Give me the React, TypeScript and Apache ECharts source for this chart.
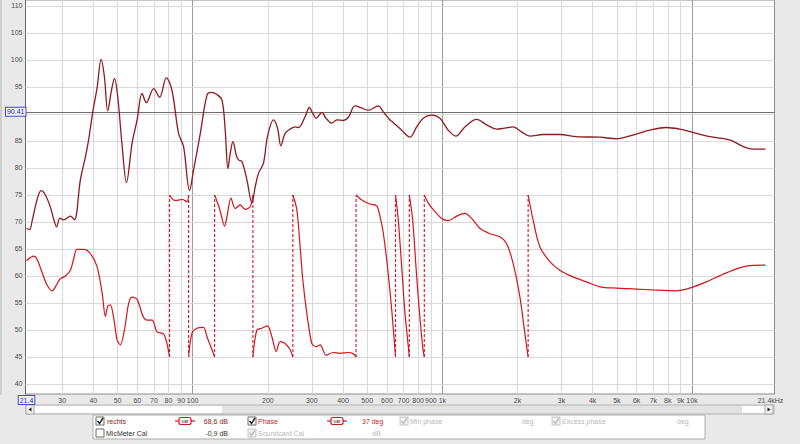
import React, { useEffect, useRef } from 'react';
import * as echarts from 'echarts';

// ---------- data ----------
const splFreq = [21.6, 22.2, 22.8, 23.8, 24.7, 25.7, 26.9, 27.8, 28.5, 29.4,
  30.4, 32.4, 33.6, 35.5, 37.2, 38.3, 39.9, 41.4, 43.0, 44.3,
  45.7, 47.3, 48.6, 50.1, 52.2, 54.3, 57.2, 59.9, 62.7, 65.2,
  69.8, 73.7, 78.4, 82.6, 87.8, 91.9, 97.2, 100.8, 107.3, 114.1,
  118.7, 125.1, 131.0, 135.0, 138.4, 141.4, 145.0, 149.4, 152.6, 157.5,
  164.9, 172.7, 178.0, 183.5, 192.1, 199.3, 210.7, 218.6, 225.6, 234.6,
  245.7, 257.3, 265.2, 282.0, 293.4, 302.8, 312.1, 329.0, 342.3, 360.8,
  377.8, 401.5, 420.4, 447.1, 475.6, 505.3, 554.1, 580.2, 617.2, 636.3,
  687.4, 742.0, 789.3, 838.7, 906.2, 978.1, 1056, 1133, 1231, 1372,
  1504, 1649, 1780, 1921, 2076, 2241, 2533, 2954, 3446, 4271,
  4980, 5801, 6767, 7897, 8921, 10080, 11760, 14140, 15980, 17520,
  19700];
const splDb = [68.8, 68.6, 70.4, 74.1, 75.8, 75.0, 72.8, 70.4, 69.1, 70.7,
  70.4, 71.1, 70.4, 77.8, 82.1, 85.2, 90.7, 94.8, 100.1, 96.9,
  90.6, 94.4, 96.6, 93.2, 84.0, 77.3, 84.6, 88.9, 93.8, 92.1,
  94.7, 93.1, 96.7, 94.4, 86.4, 84.0, 75.8, 79.6, 86.4, 93.5,
  94.0, 93.6, 92.6, 87.0, 79.9, 82.7, 84.9, 82.4, 81.5, 81.2,
  77.8, 73.5, 76.5, 79.0, 80.9, 85.8, 88.9, 87.4, 84.1, 86.4,
  87.2, 87.6, 87.5, 89.5, 91.2, 90.1, 89.2, 90.3, 89.2, 88.3,
  88.9, 88.8, 89.4, 91.5, 91.1, 90.7, 91.5, 90.4, 88.9, 88.4,
  87.0, 85.7, 87.6, 89.2, 89.8, 89.2, 87.0, 85.9, 87.6, 89.0,
  88.0, 87.2, 87.4, 87.6, 86.7, 85.9, 86.2, 86.2, 85.8, 85.7,
  85.4, 86.1, 87.0, 87.5, 87.2, 86.6, 85.8, 85.2, 84.0, 83.5,
  83.5];

// phase, wrapped to ±180 (a wrap is the same frequency listed twice)
const phaseFreq = [
  21.6, 23.1, 23.8, 25.0, 26.1, 27.4, 28.2, 29.4, 30.9, 32.4, 33.4, 34.4, 36.6, 38.9, 41.4, 43.4, 44.7, 45.7, 46.8, 48.3,
  49.8, 51.3, 53.3, 55.4, 57.2, 59.9, 63.3, 65.7, 68.8, 72.0, 76.5, 78.9, 80.8,
  80.8, 83.9, 86.5, 90.9, 94.9, 96.3,
  96.3, 99.4, 104.0, 110.5, 114.1, 119.5, 122.4,
  122.4, 128.1, 134.2, 137.2, 142.3, 148.1, 155.0, 162.3, 170.0, 174.3,
  174.3, 180.8, 189.3, 199.3, 207.6, 216.0, 224.1, 234.6, 245.7, 251.9,
  251.9, 261.4, 269.4, 276.2, 286.6, 300.1, 312.1, 323.9, 342.3, 366.0, 389.3, 420.4, 440.2, 451.3,
  451.3, 475.6, 513.3, 546.0, 562.9, 580.2, 603.1, 627.0, 649.3,
  649.3, 666.3, 687.4, 708.7, 730.6, 737.4,
  737.4, 760.8, 784.3, 808.5, 834.2, 846.6,
  846.6, 878.4, 934.2, 993.6, 1056, 1141, 1231, 1310, 1414, 1550, 1700, 1808, 1921, 2044, 2140, 2206,
  2206, 2310, 2457, 2694, 2954, 3339, 3778, 4271, 4980, 5988, 6976, 8654, 9781, 11410, 13720, 16490, 19700];
const phaseDeg = [
  34, 44, 37, 6, -20, -33, -24, -7, 0, 13, 39, 59, 59, 50, 21, -38, -90, -67, -64, -94,
  -142, -153, -120, -61, -47, -52, -90, -98, -98, -124, -129, -150, -180,
  180, 169, 168, 170, 165, 180,
  -180, -127, -116, -114, -135, -164, -180,
  180, 150, 111, 132, 173, 150, 158, 148, 154, 180,
  -180, -120, -116, -111, -135, -168, -146, -150, -164, -180,
  180, 147, 65, -9, -83, -150, -157, -153, -176, -170, -172, -170, -173, -180,
  180, 169, 160, 156, 132, 95, 20, -75, -180,
  180, 124, 20, -83, -157, -180,
  180, 124, 20, -76, -157, -180,
  180, 162, 143, 128, 123, 133, 139, 128, 106, 94, 87, 72, 28, -46, -127, -180,
  180, 124, 65, 32, 13, -2, -13, -24, -27, -29, -31, -33, -27, -13, 7, 22, 24];

const gridFreqs = [30, 40, 50, 60, 70, 80, 90, 100, 200, 300, 400, 500, 600, 700, 800, 900,
  1000, 2000, 3000, 4000, 5000, 6000, 7000, 8000, 9000, 10000];
const freqLabels = ['30', '40', '50', '60', '70', '80', '90', '100', '200', '300', '400', '500', '600', '700', '800', '900',
  '1k', '2k', '3k', '4k', '5k', '6k', '7k', '8k', '9k', '10k'];
const majorFreqs = [100, 1000, 10000];
const dbTicks = [40, 45, 50, 55, 60, 65, 70, 75, 80, 85, 90, 95, 100, 105, 110];
const degTicks = [-240, -180, -120, -60, 0, 60, 120, 180, 240, 300, 360, 420, 480, 540, 600];
const cursorDb = 90.41;
const cursorDeg = 365;
const startLabel = '21.4';
const endLabel = '21.4kHz';

const X_MIN = 21.4;
const X_MAX = 21400;
const DB_MIN = 38.148;
const DB_MAX = 111.111;
const DEG_MIN = -262.2;
const DEG_MAX = 613.3;

const FONT = 'Liberation Sans';
const SPL_COLOR = '#8e1a1e';
const PHASE_COLOR = '#d3141e';

function checkbox(x: number, y: number, checked: boolean, faded: boolean): any[] {
  const border = faded ? '#c4c4c4' : '#6a6a6a';
  const els: any[] = [{
    type: 'rect', shape: { x, y, width: 8, height: 8 },
    style: { fill: faded ? '#f2f2f2' : '#ffffff', stroke: border, lineWidth: 1 }, silent: true,
  }];
  if (checked) {
    els.push({
      type: 'polyline', shape: { points: [[x + 1.5, y + 4], [x + 3.5, y + 6.5], [x + 7, y + 1]] },
      style: { stroke: faded ? '#bdbdbd' : '#222222', lineWidth: 1.4, fill: 'none' }, silent: true,
    });
  }
  return els;
}

function txt(text: string, x: number, y: number, fill: string, align = 'left'): any {
  return {
    type: 'text', x, y, silent: true,
    style: { text, fill, fontSize: 7, fontFamily: FONT, align, verticalAlign: 'middle' },
  };
}

function varBox(cx: number, y: number): any[] {
  return [
    { type: 'line', shape: { x1: cx - 10, y1: y, x2: cx + 10, y2: y }, style: { stroke: '#c42020', lineWidth: 1.2 }, silent: true },
    { type: 'rect', shape: { x: cx - 6, y: y - 3.5, width: 12, height: 7, r: 2 }, style: { fill: '#ffffff', stroke: '#c42020', lineWidth: 1.2 }, silent: true },
    { type: 'text', x: cx, y, silent: true, style: { text: 'var', fill: '#333', fontSize: 5.5, fontFamily: FONT, align: 'center', verticalAlign: 'middle' } },
  ];
}

export default function App() {
  const ref = useRef<HTMLDivElement>(null);

  useEffect(() => {
    if (!ref.current) return;
    const chart = echarts.init(ref.current, undefined, { renderer: 'svg' });

    const splData = splFreq.map((f, i) => [f, splDb[i]]);
    const phaseSolid: any[] = [];
    const phaseWraps: any[] = [];
    phaseFreq.forEach((f, i) => {
      if (i > 0 && Math.abs(phaseDeg[i] - phaseDeg[i - 1]) > 300) {
        phaseSolid.push([f, '-']);
        phaseWraps.push([phaseFreq[i - 1], phaseDeg[i - 1]], [f, phaseDeg[i]], [f, '-']);
      }
      phaseSolid.push([f, phaseDeg[i]]);
    });

    const yLo = DB_MIN + 0.001;
    const yHi = DB_MAX - 0.001;
    const boxStyle = {
      backgroundColor: '#eef0ff', borderColor: '#4a4ac8', borderWidth: 1,
      padding: [1, 1, 0, 1], color: '#2b2b9c', fontSize: 7, fontFamily: FONT,
    };

    const vLines: any[] = gridFreqs.map((f, i) => [
      {
        coord: [f, yLo],
        lineStyle: { color: majorFreqs.includes(f) ? '#9c9c9c' : '#d9d9d9', width: 1, type: 'solid' },
        label: { formatter: freqLabels[i] },
      },
      { coord: [f, yHi] },
    ]);

    // gridlines hidden by the cursor boxes in the reference carry no label
    const hLinesLeft: any[] = dbTicks.map((v) => ({
      yAxis: v, lineStyle: { color: '#d9d9d9', width: 1, type: 'solid' },
      label: { show: v !== 90, formatter: String(v), position: 'start' },
    }));
    hLinesLeft.push({
      yAxis: cursorDb, lineStyle: { color: '#6e6e6e', width: 1.2, type: 'solid' },
      label: { formatter: String(cursorDb), position: 'start', distance: 0, ...boxStyle },
    });

    const hLinesRight: any[] = degTicks.map((v) => ({
      yAxis: v, lineStyle: { opacity: 0 },
      label: { show: v !== 360, formatter: String(v), position: 'end' },
    }));
    hLinesRight.push({
      yAxis: cursorDeg, lineStyle: { opacity: 0 },
      label: { formatter: String(cursorDeg), position: 'end', distance: 2, ...boxStyle },
    });

    const labelBase = { show: true, fontSize: 7, fontFamily: FONT, color: '#4a4a4a', distance: 3 };

    const graphic: any[] = [
      { type: 'rect', shape: { x: 0, y: 0, width: 2, height: 395 }, style: { fill: '#cfcfcf' }, silent: true },
      // scrollbar
      { type: 'rect', shape: { x: 26, y: 405, width: 748, height: 9 }, style: { fill: '#e2e2e2', stroke: '#b4b4b4', lineWidth: 1 }, silent: true },
      { type: 'rect', shape: { x: 34, y: 406, width: 188, height: 7 }, style: { fill: '#ffffff' }, silent: true },
      { type: 'rect', shape: { x: 742, y: 406, width: 23, height: 7 }, style: { fill: '#ffffff' }, silent: true },
      { type: 'rect', shape: { x: 26, y: 405, width: 8, height: 9 }, style: { fill: '#f0f0f0', stroke: '#a8a8a8', lineWidth: 1 }, silent: true },
      { type: 'polygon', shape: { points: [[28.5, 409.5], [31.5, 407.5], [31.5, 411.5]] }, style: { fill: '#222' }, silent: true },
      { type: 'rect', shape: { x: 765, y: 405, width: 8, height: 9 }, style: { fill: '#f0f0f0', stroke: '#a8a8a8', lineWidth: 1 }, silent: true },
      { type: 'polygon', shape: { points: [[770.5, 409.5], [767.5, 407.5], [767.5, 411.5]] }, style: { fill: '#222' }, silent: true },
      // legend panel
      { type: 'rect', shape: { x: 93, y: 415, width: 612, height: 24 }, style: { fill: '#ffffff', stroke: '#ababab', lineWidth: 1 }, silent: true },
      ...checkbox(96, 417, true, false),
      txt('rechts', 107, 421, '#8b1a1a'),
      ...varBox(185, 421),
      txt('68,6 dB', 228, 421, '#8b1a1a', 'right'),
      ...checkbox(248, 417, true, false),
      txt('Phase', 258, 421, '#cc2222'),
      ...varBox(337, 421),
      txt('37 deg', 362, 421, '#cc2222'),
      ...checkbox(400, 417, true, true),
      txt('Min phase', 410, 421, '#b8b8b8'),
      txt('deg', 522, 421, '#b8b8b8'),
      ...checkbox(552, 417, true, true),
      txt('Excess phase', 562, 421, '#b8b8b8'),
      txt('deg', 677, 421, '#b8b8b8'),
      ...checkbox(96, 429, false, false),
      txt('MicMeter Cal', 106, 433, '#333333'),
      txt('-0,9 dB', 228, 433, '#333333', 'right'),
      ...checkbox(248, 429, true, true),
      txt('Soundcard Cal', 258, 433, '#b8b8b8'),
      txt('dB', 372, 433, '#b8b8b8'),
    ];

    const option: any = {
      animation: false,
      backgroundColor: '#e9e9e9',
      grid: {
        left: 25.5, right: 25.5, top: 0, bottom: 50, show: true,
        backgroundColor: '#ffffff', borderColor: '#8c8c8c', borderWidth: 1,
      },
      xAxis: {
        type: 'log', logBase: 10, min: X_MIN, max: X_MAX,
        axisLabel: { show: false }, axisTick: { show: false }, splitLine: { show: false },
        minorTick: { show: false }, minorSplitLine: { show: false },
        axisLine: { show: true, lineStyle: { color: '#777777' } },
      },
      yAxis: [
        {
          type: 'value', min: DB_MIN, max: DB_MAX,
          axisLabel: { show: false }, axisTick: { show: false }, splitLine: { show: false },
          axisLine: { show: true, lineStyle: { color: '#666666' } },
        },
        {
          type: 'value', position: 'right', min: DEG_MIN, max: DEG_MAX,
          axisLabel: { show: false }, axisTick: { show: false }, splitLine: { show: false },
          axisLine: { show: true, lineStyle: { color: '#8c8c8c' } },
        },
      ],
      series: [
        {
          type: 'line', name: 'rechts', yAxisIndex: 0, data: splData,
          showSymbol: false, smooth: 0.35, z: 4, silent: true,
          lineStyle: { color: SPL_COLOR, width: 1.3 },
          markLine: {
            silent: true, symbol: ['none', 'none'], z: 1, animation: false,
            emphasis: { disabled: true },
            label: { ...labelBase, position: 'start' },
            data: [...vLines, ...hLinesLeft],
          },
        },
        {
          type: 'line', name: 'Phase', yAxisIndex: 1, data: phaseSolid,
          showSymbol: false, smooth: 0.3, connectNulls: false, z: 3, silent: true,
          lineStyle: { color: PHASE_COLOR, width: 1.2 },
          markLine: {
            silent: true, symbol: ['none', 'none'], z: 1, animation: false,
            emphasis: { disabled: true },
            label: { ...labelBase, position: 'end' },
            data: hLinesRight,
          },
        },
        {
          type: 'line', name: 'wraps', yAxisIndex: 1, data: phaseWraps,
          showSymbol: false, connectNulls: false, z: 5, silent: true,
          itemStyle: { color: PHASE_COLOR },
          lineStyle: { color: PHASE_COLOR, width: 1.1, type: [3, 2] },
        },
      ],
      graphic,
    };

    chart.setOption(option);

    // edge labels of the frequency axis, placed through the axis scale
    const x0 = chart.convertToPixel({ xAxisIndex: 0 }, X_MIN) as unknown as number;
    const x1 = chart.convertToPixel({ xAxisIndex: 0 }, X_MAX) as unknown as number;
    const yb = chart.convertToPixel({ yAxisIndex: 0 }, DB_MIN) as unknown as number;
    chart.setOption({
      graphic: [
        ...graphic,
        {
          type: 'text', x: x0 + 1, y: yb + 6, silent: true, z: 10,
          style: {
            text: startLabel, fill: '#2b2b9c', fontSize: 7, fontFamily: FONT, align: 'center', verticalAlign: 'middle',
            backgroundColor: '#eef0ff', borderColor: '#4a4ac8', borderWidth: 1, padding: [1, 1, 0, 1],
          },
        },
        {
          type: 'text', x: x1 - 4, y: yb + 6, silent: true, z: 10,
          style: { text: endLabel, fill: '#4a4a4a', fontSize: 7, fontFamily: FONT, align: 'center', verticalAlign: 'middle' },
        },
      ],
    });

    return () => chart.dispose();
  }, []);

  return (
    <div
      ref={ref}
      style={{ position: 'fixed', left: 0, top: 0, width: 800, height: 444, background: '#e9e9e9' }}
    />
  );
}
